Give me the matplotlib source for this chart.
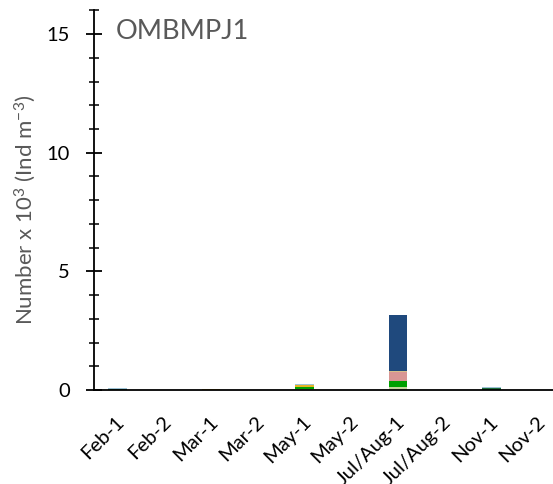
import numpy as np
import matplotlib
matplotlib.use('Agg')
import matplotlib.pyplot as plt
import matplotlib.transforms as mtransforms
from matplotlib.ticker import MultipleLocator

plt.rcParams['font.family'] = ['Lato', 'DejaVu Sans']
plt.rcParams['mathtext.fontset'] = 'custom'
plt.rcParams['mathtext.rm'] = 'Lato'
plt.rcParams['mathtext.it'] = 'Lato'

station = 'OMBMPJ1'
samples = ['Feb-1', 'Feb-2', 'Mar-1', 'Mar-2', 'May-1', 'May-2',
           'Jul/Aug-1', 'Jul/Aug-2', 'Nov-1', 'Nov-2']

# abundance per group, x 10^3 ind m-3 (stacked bottom to top)
group_dark_green = [0.05, 0, 0, 0, 0, 0, 0, 0, 0.08, 0]
group_light_green = [0, 0, 0.02, 0, 0.04, 0, 0.11, 0, 0, 0]
group_green = [0, 0, 0, 0, 0.07, 0, 0.25, 0, 0, 0]
group_gold = [0, 0, 0.02, 0, 0.08, 0, 0, 0, 0, 0]
group_pink = [0, 0, 0, 0, 0, 0, 0.38, 0, 0, 0]
group_tan = [0, 0, 0, 0, 0, 0, 0.05, 0, 0, 0]
group_light_blue = [0.05, 0, 0, 0, 0.08, 0, 0, 0, 0.06, 0]
group_navy = [0, 0, 0, 0, 0, 0, 2.36, 0, 0, 0]

layers = [
    (group_dark_green, '#1d6b3a'),
    (group_light_green, '#c3d69b'),
    (group_green, '#00a000'),
    (group_gold, '#e6b422'),
    (group_pink, '#d99694'),
    (group_tan, '#d6bf8a'),
    (group_light_blue, '#9dc3d6'),
    (group_navy, '#1f497d'),
]

fig = plt.figure(figsize=(5.53, 4.84), dpi=100)
ax = fig.add_axes([0.170, 0.1942, 0.8454, 0.7845])

x = np.arange(len(samples))
bottom = np.zeros(len(samples))
for vals, col in layers:
    vals = np.array(vals, dtype=float)
    ax.bar(x, vals, bottom=bottom, width=0.39, color=col, edgecolor='none', zorder=2)
    bottom += vals

ax.set_xlim(-0.5, 9.5)
ax.set_ylim(0, 16)

for side in ['top', 'right']:
    ax.spines[side].set_visible(False)
for side in ['left', 'bottom']:
    ax.spines[side].set_linewidth(1.3)
    ax.spines[side].set_color('black')
    ax.spines[side].set_zorder(3)

ax.yaxis.set_major_locator(MultipleLocator(5))
ax.yaxis.set_minor_locator(MultipleLocator(1))
ax.tick_params(axis='y', which='major', direction='inout', length=11, width=1.3,
               labelsize=14.5, pad=12)
ax.tick_params(axis='y', which='minor', direction='inout', length=7, width=1.1)
ax.tick_params(axis='x', length=0, labelsize=14.5, pad=21)

ax.set_xticks(x)
ax.set_xticklabels(samples, rotation=45, ha='right', va='center',
                   rotation_mode='anchor')
# nudge the rotated labels a little to the right
shift = mtransforms.ScaledTranslation(4 / 100, 0, fig.dpi_scale_trans)
for lbl in ax.get_xticklabels():
    lbl.set_transform(lbl.get_transform() + shift)

ax.set_ylabel('Number x 10$^{3}$ (Ind m$^{-3}$)', fontsize=16, color='#595959',
              labelpad=6)
ax.yaxis.label.set_y(0.475)

ax.text(0.047, 0.978, station, transform=ax.transAxes, fontsize=19.5,
        color='#595959', ha='left', va='top')

plt.savefig('out.png', dpi=100)
